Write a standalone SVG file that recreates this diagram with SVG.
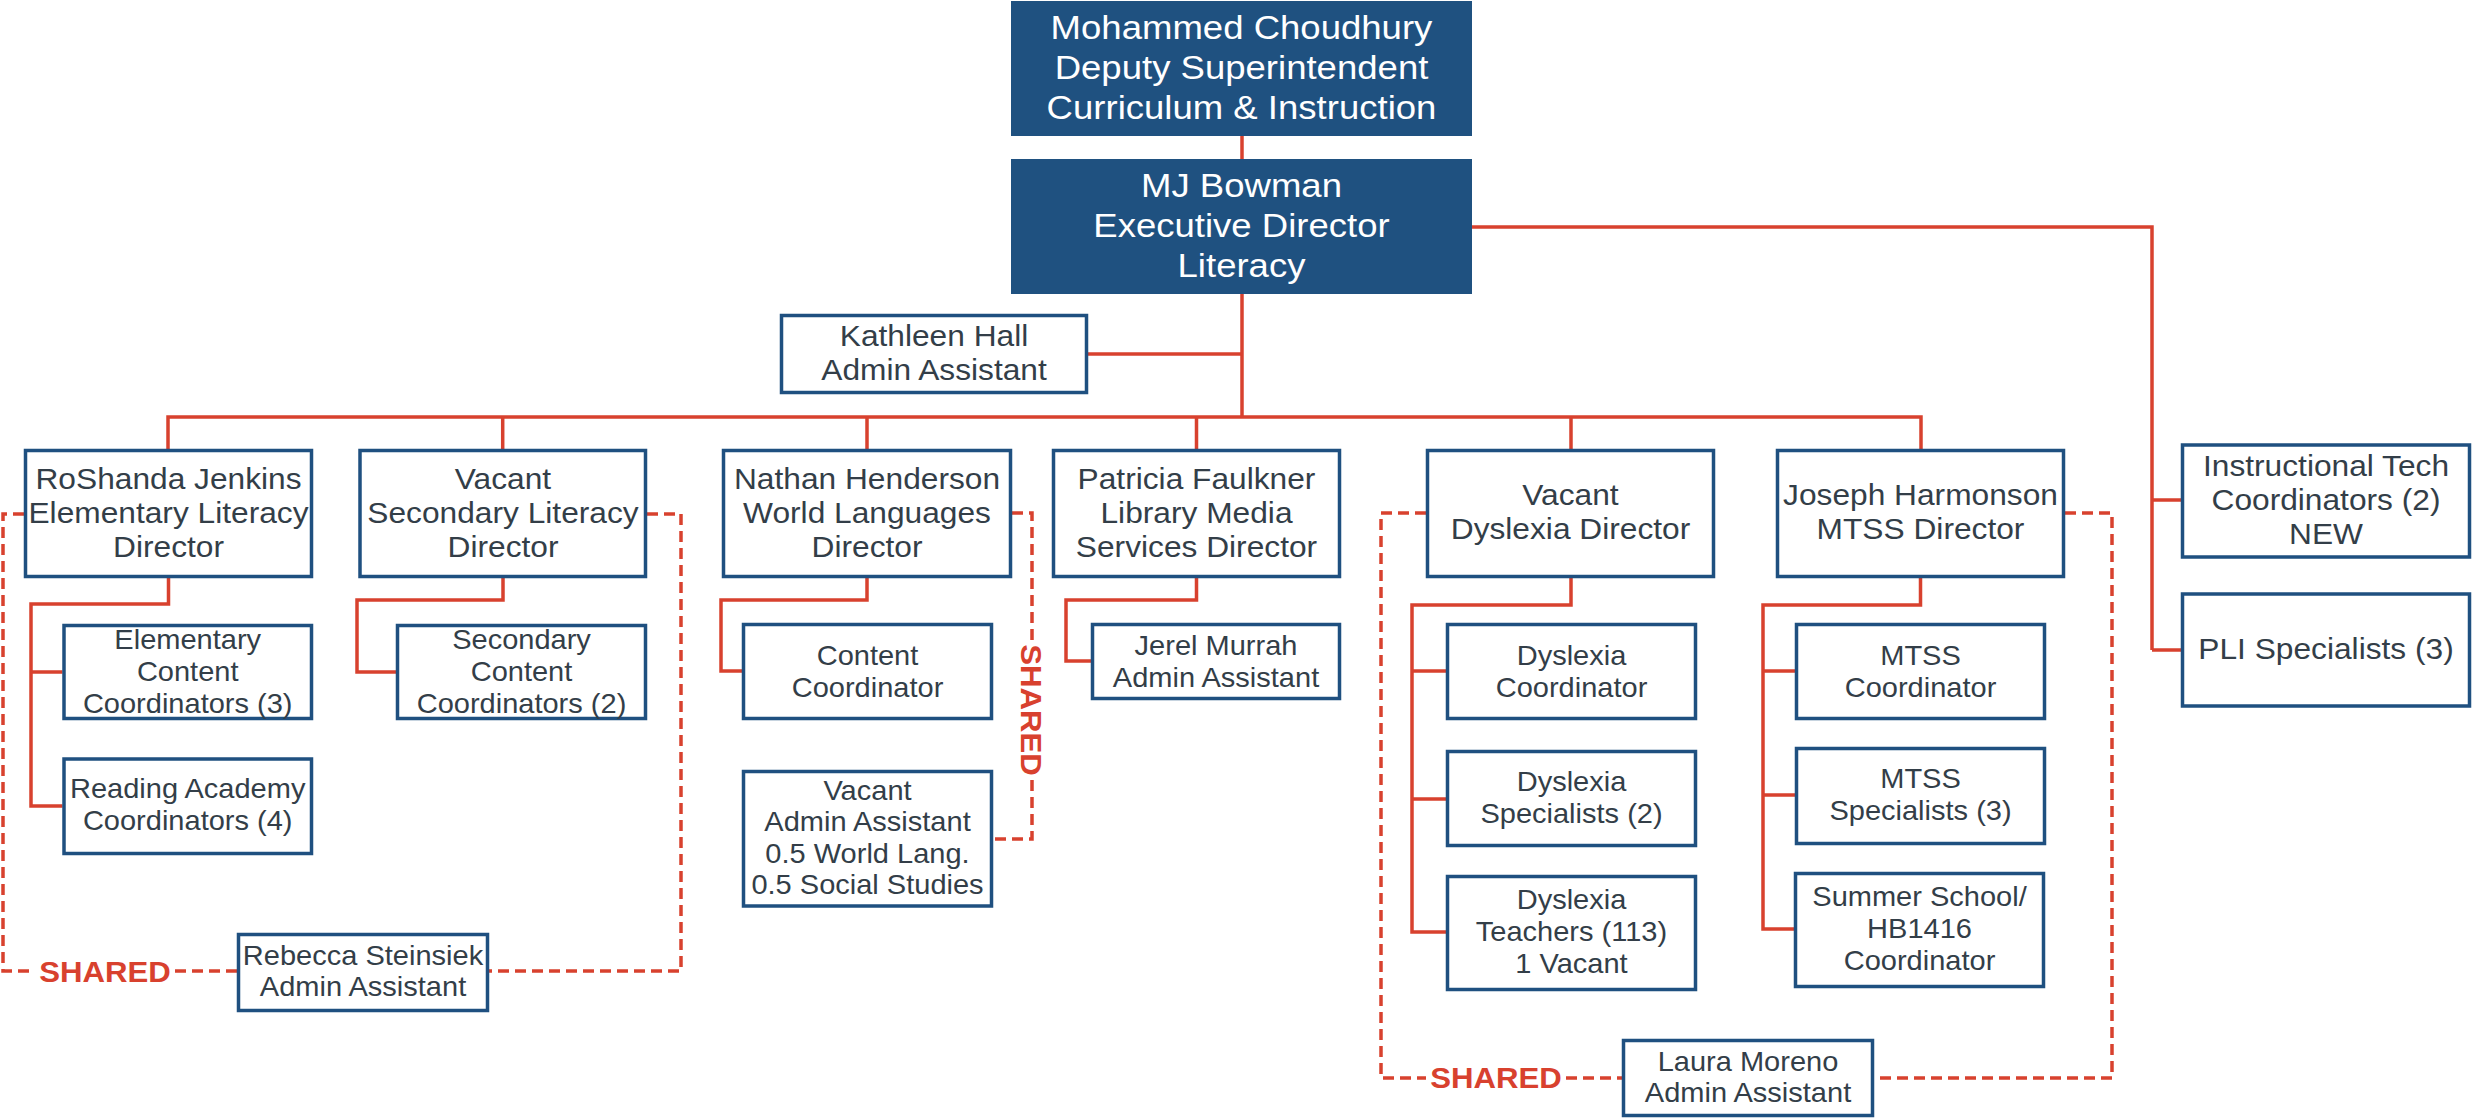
<svg xmlns="http://www.w3.org/2000/svg" width="2483" height="1120" viewBox="0 0 2483 1120">
<style>
.bg{fill:#ffffff}
.box{fill:#ffffff;stroke:#1f5080;stroke-width:3.5}
.dark{fill:#1f5180}
.t{font-family:"Liberation Sans",Arial,sans-serif;fill:#333e48;text-anchor:middle}
.d{font-size:29.5px}
.c{font-size:27px}
.w{font-size:34px;fill:#ffffff}
.ln{fill:none;stroke:#d8412e;stroke-width:3.5}
.ds{fill:none;stroke:#d8412e;stroke-width:3.5;stroke-dasharray:11 6}
.sh{font-family:"Liberation Sans",Arial,sans-serif;font-weight:bold;font-size:29px;fill:#d8412e;text-anchor:middle}
</style>
<rect class="bg" x="0" y="0" width="2483" height="1120"/>

<g id="connectors">
  <path class="ln" d="M1242,136 V159"/>
  <path class="ln" d="M1242,294 V417"/>
  <path class="ln" d="M1088,354 H1242"/>
  <path class="ln" d="M168,449 V417 H1921 V449"/>
  <path class="ln" d="M502.7,417 V449 M867,417 V449 M1196.5,417 V449 M1571,417 V449"/>
  <path class="ln" d="M1472,227 H2152 V650 M2152,500 H2181 M2152,650 H2181"/>
  <path class="ln" d="M168.5,578 V604 H31 V806 H62.5 M31,672 H62.5"/>
  <path class="ln" d="M503,578 V600 H357 V672 H396"/>
  <path class="ln" d="M867,578 V600 H721 V671 H742"/>
  <path class="ln" d="M1196.5,578 V600 H1066 V661 H1091"/>
  <path class="ln" d="M1571,578 V605 H1412 V932 H1446 M1412,671 H1446 M1412,799 H1446"/>
  <path class="ln" d="M1920.5,578 V605 H1763 V929 H1795 M1763,671 H1795 M1763,795 H1795"/>
  <path class="ds" d="M24,514 H3 V971 H35 M175,971 H237"/>
  <path class="ds" d="M647,514 H681 V971 H489"/>
  <path class="ds" d="M1012,513 H1032 V640 M1032,780 V839 H993"/>
  <path class="ds" d="M1426,513 H1381 V1078 H1426 M1566,1078 H1622"/>
  <path class="ds" d="M2065,513 H2112 V1078 H1874"/>
  <text class="sh" transform="matrix(1.075 0 0 1 105 0)" x="0" y="982">SHARED</text>
  <text class="sh" transform="matrix(1.075 0 0 1 1496 0)" x="0" y="1088">SHARED</text>
  <text class="sh" transform="translate(1032,710) rotate(90) scale(1.075,1)" x="0" y="10.5">SHARED</text>
</g>

<g id="n-choudhury">
  <rect class="dark" x="1011" y="1" width="461" height="135"/>
  <text class="t w" transform="matrix(1.075 0 0 1 1241.5 0)"><tspan x="0" y="39.5">Mohammed Choudhury</tspan><tspan x="0" y="79.5">Deputy Superintendent</tspan><tspan x="0" y="119">Curriculum &amp; Instruction</tspan></text>
</g>
<g id="n-bowman">
  <rect class="dark" x="1011" y="159" width="461" height="135"/>
  <text class="t w" transform="matrix(1.075 0 0 1 1241.5 0)"><tspan x="0" y="197.5">MJ Bowman</tspan><tspan x="0" y="237.5">Executive Director</tspan><tspan x="0" y="277">Literacy</tspan></text>
</g>
<g id="n-hall">
  <rect class="box" x="781.5" y="315.5" width="305" height="77"/>
  <text class="t d" transform="matrix(1.075 0 0 1 934 0)"><tspan x="0" y="346">Kathleen Hall</tspan><tspan x="0" y="380">Admin Assistant</tspan></text>
</g>
<g id="n-jenkins">
  <rect class="box" x="25.5" y="450.5" width="286" height="126"/>
  <text class="t d" transform="matrix(1.075 0 0 1 168.5 0)"><tspan x="0" y="489">RoShanda Jenkins</tspan><tspan x="0" y="523">Elementary Literacy</tspan><tspan x="0" y="557">Director</tspan></text>
</g>
<g id="n-secondary">
  <rect class="box" x="360" y="450.5" width="285.5" height="126"/>
  <text class="t d" transform="matrix(1.075 0 0 1 503 0)"><tspan x="0" y="489">Vacant</tspan><tspan x="0" y="523">Secondary Literacy</tspan><tspan x="0" y="557">Director</tspan></text>
</g>
<g id="n-henderson">
  <rect class="box" x="723.5" y="450.5" width="287" height="126"/>
  <text class="t d" transform="matrix(1.075 0 0 1 867 0)"><tspan x="0" y="489">Nathan Henderson</tspan><tspan x="0" y="523">World Languages</tspan><tspan x="0" y="557">Director</tspan></text>
</g>
<g id="n-faulkner">
  <rect class="box" x="1053.5" y="450.5" width="286" height="126"/>
  <text class="t d" transform="matrix(1.075 0 0 1 1196.5 0)"><tspan x="0" y="489">Patricia Faulkner</tspan><tspan x="0" y="523">Library Media</tspan><tspan x="0" y="557">Services Director</tspan></text>
</g>
<g id="n-dyslexia-dir">
  <rect class="box" x="1427.5" y="450.5" width="286" height="126"/>
  <text class="t d" transform="matrix(1.075 0 0 1 1570.5 0)"><tspan x="0" y="505">Vacant</tspan><tspan x="0" y="539">Dyslexia Director</tspan></text>
</g>
<g id="n-harmonson">
  <rect class="box" x="1777.5" y="450.5" width="286" height="126"/>
  <text class="t d" transform="matrix(1.075 0 0 1 1920.5 0)"><tspan x="0" y="505">Joseph Harmonson</tspan><tspan x="0" y="539">MTSS Director</tspan></text>
</g>
<g id="n-itech">
  <rect class="box" x="2182.5" y="445" width="287" height="112"/>
  <text class="t d" transform="matrix(1.075 0 0 1 2326 0)"><tspan x="0" y="476">Instructional Tech</tspan><tspan x="0" y="510">Coordinators (2)</tspan><tspan x="0" y="544">NEW</tspan></text>
</g>
<g id="n-pli">
  <rect class="box" x="2182.5" y="594" width="287" height="112"/>
  <text class="t d" transform="matrix(1.075 0 0 1 2326 0)"><tspan x="0" y="659">PLI Specialists (3)</tspan></text>
</g>
<g id="n-elem-content">
  <rect class="box" x="64" y="625.5" width="247.5" height="93"/>
  <text class="t c" transform="matrix(1.075 0 0 1 187.7 0)"><tspan x="0" y="649">Elementary</tspan><tspan x="0" y="681">Content</tspan><tspan x="0" y="713">Coordinators (3)</tspan></text>
</g>
<g id="n-reading">
  <rect class="box" x="64" y="759" width="247.5" height="94.5"/>
  <text class="t c" transform="matrix(1.075 0 0 1 187.7 0)"><tspan x="0" y="798">Reading Academy</tspan><tspan x="0" y="830">Coordinators (4)</tspan></text>
</g>
<g id="n-sec-content">
  <rect class="box" x="397.5" y="625.5" width="248" height="93"/>
  <text class="t c" transform="matrix(1.075 0 0 1 521.5 0)"><tspan x="0" y="649">Secondary</tspan><tspan x="0" y="681">Content</tspan><tspan x="0" y="713">Coordinators (2)</tspan></text>
</g>
<g id="n-content-coord">
  <rect class="box" x="743.5" y="624.5" width="248" height="94"/>
  <text class="t c" transform="matrix(1.075 0 0 1 867.5 0)"><tspan x="0" y="665">Content</tspan><tspan x="0" y="697">Coordinator</tspan></text>
</g>
<g id="n-vacant-admin">
  <rect class="box" x="743.5" y="771.5" width="248" height="134.5"/>
  <text class="t c" transform="matrix(1.075 0 0 1 867.5 0)"><tspan x="0" y="800">Vacant</tspan><tspan x="0" y="831.5">Admin Assistant</tspan><tspan x="0" y="863">0.5 World Lang.</tspan><tspan x="0" y="894.5">0.5 Social Studies</tspan></text>
</g>
<g id="n-murrah">
  <rect class="box" x="1092.5" y="624.5" width="247" height="74"/>
  <text class="t c" transform="matrix(1.075 0 0 1 1216 0)"><tspan x="0" y="655">Jerel Murrah</tspan><tspan x="0" y="687">Admin Assistant</tspan></text>
</g>
<g id="n-dys-coord">
  <rect class="box" x="1447.5" y="624.5" width="248" height="94"/>
  <text class="t c" transform="matrix(1.075 0 0 1 1571.5 0)"><tspan x="0" y="665">Dyslexia</tspan><tspan x="0" y="697">Coordinator</tspan></text>
</g>
<g id="n-dys-spec">
  <rect class="box" x="1447.5" y="751.5" width="248" height="94"/>
  <text class="t c" transform="matrix(1.075 0 0 1 1571.5 0)"><tspan x="0" y="791">Dyslexia</tspan><tspan x="0" y="823">Specialists (2)</tspan></text>
</g>
<g id="n-dys-teach">
  <rect class="box" x="1447.5" y="876.5" width="248" height="113"/>
  <text class="t c" transform="matrix(1.075 0 0 1 1571.5 0)"><tspan x="0" y="909">Dyslexia</tspan><tspan x="0" y="941">Teachers (113)</tspan><tspan x="0" y="973">1 Vacant</tspan></text>
</g>
<g id="n-mtss-coord">
  <rect class="box" x="1796.5" y="624.5" width="248" height="94"/>
  <text class="t c" transform="matrix(1.075 0 0 1 1920.5 0)"><tspan x="0" y="665">MTSS</tspan><tspan x="0" y="697">Coordinator</tspan></text>
</g>
<g id="n-mtss-spec">
  <rect class="box" x="1796.5" y="748.5" width="248" height="95"/>
  <text class="t c" transform="matrix(1.075 0 0 1 1920.5 0)"><tspan x="0" y="788">MTSS</tspan><tspan x="0" y="820">Specialists (3)</tspan></text>
</g>
<g id="n-summer">
  <rect class="box" x="1795.5" y="873.5" width="248" height="113"/>
  <text class="t c" transform="matrix(1.075 0 0 1 1919.5 0)"><tspan x="0" y="906">Summer School/</tspan><tspan x="0" y="938">HB1416</tspan><tspan x="0" y="970">Coordinator</tspan></text>
</g>
<g id="n-steinsiek">
  <rect class="box" x="238.5" y="934.5" width="249" height="76"/>
  <text class="t c" transform="matrix(1.075 0 0 1 363 0)"><tspan x="0" y="965">Rebecca Steinsiek</tspan><tspan x="0" y="996">Admin Assistant</tspan></text>
</g>
<g id="n-moreno">
  <rect class="box" x="1623.5" y="1040.5" width="249" height="75"/>
  <text class="t c" transform="matrix(1.075 0 0 1 1748 0)"><tspan x="0" y="1071">Laura Moreno</tspan><tspan x="0" y="1102">Admin Assistant</tspan></text>
</g>
</svg>
